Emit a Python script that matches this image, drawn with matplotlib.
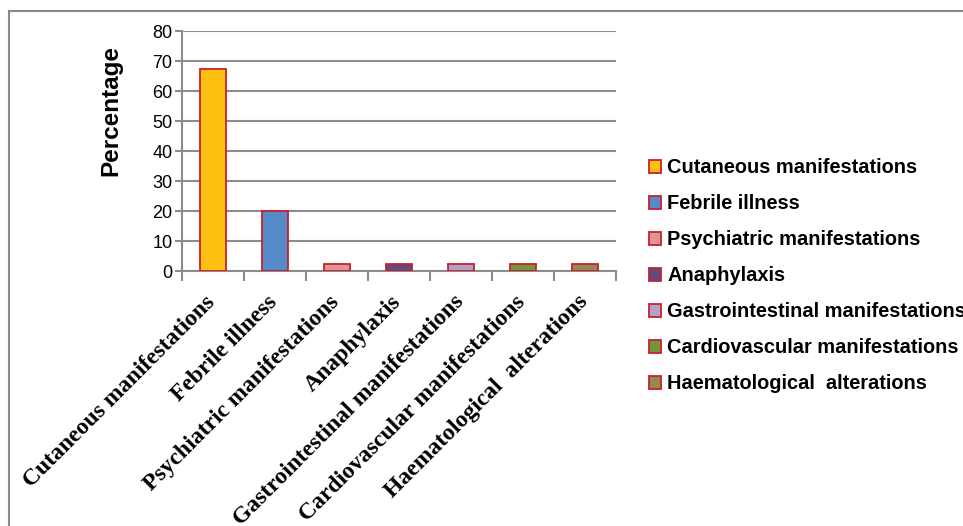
import matplotlib
matplotlib.use("Agg")
import matplotlib.pyplot as plt
from matplotlib.patches import Rectangle, Patch
from matplotlib.transforms import ScaledTranslation

categories = ["Cutaneous manifestations", "Febrile illness", "Psychiatric manifestations",
              "Anaphylaxis", "Gastrointestinal manifestations", "Cardiovascular manifestations",
              "Haematological  alterations"]
values = [67.5, 20, 2.5, 2.5, 2.5, 2.5, 2.5]
colors = ["#FDC010", "#568BC9", "#DC9592", "#5F4B80", "#B2A2C8", "#71963C", "#948A54"]
yticks = [0, 10, 20, 30, 40, 50, 60, 70, 80]

W, H = 963, 526
fig = plt.figure(figsize=(W / 100, H / 100), dpi=100)
fig.patches.append(Rectangle((9 / W, -0.2), 1.2, 1.2 - 11 / H, transform=fig.transFigure,
                             fill=False, edgecolor="#8a8a8a", linewidth=1.5, zorder=0))

ax = fig.add_axes([182 / W, 1 - 271.3 / H, (616 - 182) / W, (271.3 - 31) / H])
x = list(range(len(categories)))
ax.bar(x, values, width=0.42, color=colors, edgecolor="#C8202F", linewidth=1.3, zorder=3)
ax.set_xlim(-0.5, len(categories) - 0.5)
ax.set_ylim(0, 80)
ax.set_yticks(yticks)
ax.set_yticklabels([str(v) for v in yticks], fontsize=13, family="Liberation Sans")
ax.yaxis.grid(True, color="#8c8c8c", linewidth=1.5, zorder=0)
ax.set_axisbelow(True)
for s in ["top", "right"]:
    ax.spines[s].set_visible(False)
for s in ["left", "bottom"]:
    ax.spines[s].set_color("#8c8c8c")
    ax.spines[s].set_linewidth(1.5)
ax.tick_params(axis="y", length=5, color="#8c8c8c", width=1.5, pad=2)
ax.set_xticks([i - 0.5 for i in range(len(categories) + 1)], minor=False)
ax.set_xticklabels([""] * (len(categories) + 1))
ax.tick_params(axis="x", length=7, color="#8c8c8c", width=1.5, direction="out")
ax.set_xticks(x, minor=True)
ax.set_xticklabels(categories, minor=True, rotation=45, ha="right", va="top",
                   rotation_mode="anchor", fontsize=17, fontweight="bold",
                   family="Liberation Serif")
ax.tick_params(axis="x", which="minor", length=0, pad=14.5)
offset = ScaledTranslation(-8 / 100, 0, fig.dpi_scale_trans)
for lab in ax.get_xticklabels(minor=True):
    lab.set_transform(lab.get_transform() + offset)
fig.text(111 / W, 1 - 111 / H, "Percentage", rotation=90, ha="center", va="center",
         fontsize=17.5, fontweight="bold", family="Liberation Sans")

handles = [Patch(facecolor=c, edgecolor="#C8202F", linewidth=1.3) for c in colors]
fig.legend(handles, categories, loc="upper left", bbox_to_anchor=(649 / W, 1 - 158.5 / H),
           frameon=False, prop={"family": "Liberation Sans", "weight": "bold", "size": 14.4},
           handlelength=0.6, handleheight=0.6, handletextpad=0.3, labelspacing=0.85,
           borderaxespad=0, borderpad=0)

fig.savefig("out.png", dpi=100)
